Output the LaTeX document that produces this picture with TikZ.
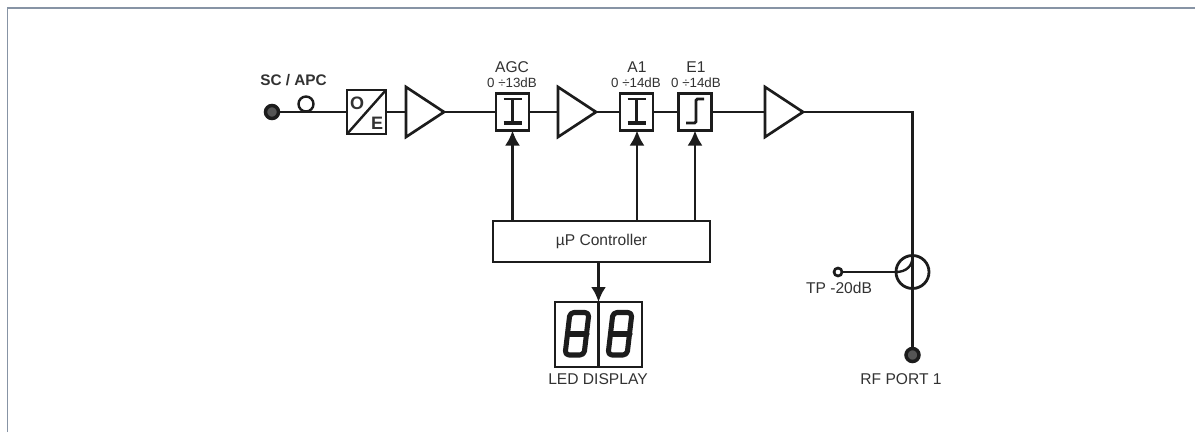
\documentclass[tikz,border=0pt]{standalone}
\usepackage{fontspec}
\setmainfont{Liberation Sans}
\usetikzlibrary{arrows.meta,shapes.geometric}
\definecolor{frameblue}{RGB}{135,148,165}
\definecolor{ink}{RGB}{28,28,28}
\definecolor{txt}{RGB}{50,50,50}
\newlength{\pxl}
\setlength{\pxl}{0.75pt}
\tikzset{x=\pxl,y=-\pxl,
 wire/.style={draw=ink,line width=2pt},
 box/.style={draw=ink,line width=2.1pt,fill=white,minimum width=33\pxl,minimum height=37\pxl,inner sep=0pt,outer sep=0pt},
 amp/.style={isosceles triangle,isosceles triangle stretches,draw=ink,line width=2pt,fill=white,minimum height=38\pxl,minimum width=50\pxl,inner sep=0pt,outer sep=0pt,anchor=lower side,miter limit=4},
 ctl/.style={wire,-{Latex[length=11.25pt,width=11.25pt]}},
 lab/.style={text=txt,inner sep=0pt,font=\fontsize{11.7pt}{13pt}\selectfont},
 tinylab/.style={text=txt,inner sep=0pt,font=\fontsize{10pt}{12pt}\selectfont},
 letter/.style={text=txt,inner sep=0pt,font=\fontsize{13.5pt}{14pt}\selectfont\bfseries},
 port/.style={circle,draw=ink,line width=2.6pt,fill=ink!75,minimum size=13\pxl,inner sep=0pt,outer sep=0pt},
 tp/.style={circle,draw=ink,line width=2pt,fill=white,minimum size=8\pxl,inner sep=0pt,outer sep=0pt},
 seg/.style={draw=ink,line width=3.8pt,line join=round,line cap=round,rounded corners=3pt}
}
\begin{document}
\begin{tikzpicture}
\useasboundingbox (0,0) rectangle (1195,432);
\fill[white] (0,0) rectangle (1195,432);
\draw[frameblue,line width=1.3pt] (7.5,432) -- (7.5,8) -- (1195,8);

% nodes
\node[port] (sc) at (272,112) {};
\node[lab,font=\fontsize{11.5pt}{13pt}\selectfont\bfseries] (sclab) at (293.5,80) {SC / APC};
\node[box,minimum width=39\pxl,minimum height=44\pxl] (oe) at (366.5,112) {};
\node[amp] (amp1) at (406,112) {};
\node[box] (agc) at (512.5,112) {};
\node[amp] (amp2) at (558,112) {};
\node[box] (a1) at (636.5,112) {};
\node[box] (e1) at (695,112) {};
\node[amp] (amp3) at (765,112) {};
\node[lab] (agclab) at (512,67) {AGC};
\node[tinylab] (agcr) at (512,83) {0 ÷13dB};
\node[lab] (a1lab) at (637,67) {A1};
\node[tinylab] (a1r) at (636,83) {0 ÷14dB};
\node[lab] (e1lab) at (696,67) {E1};
\node[tinylab] (e1r) at (696,83) {0 ÷14dB};
\node[draw=ink,line width=2.1pt,fill=white,minimum width=217\pxl,minimum height=41\pxl,inner sep=0pt,outer sep=0pt,font=\fontsize{11.7pt}{13pt}\selectfont,text=txt] (mu) at (601.5,241.5) {µP Controller};
\node[draw=ink,line width=2pt,fill=white,minimum width=87\pxl,minimum height=65\pxl,inner sep=0pt,outer sep=0pt] (led) at (598.5,334.5) {};
\node[lab] (ledlab) at (598,379) {LED DISPLAY};
\node[circle,draw=ink,line width=2.1pt,minimum size=33\pxl,inner sep=0pt,outer sep=0pt] (cpl) at (912.5,272) {};
\node[tp] (tp) at (838,272) {};
\node[lab] (tplab) at (839,288) {TP -20dB};
\node[port] (rf) at (912.5,355) {};
\node[lab] (rflab) at (901,379) {RF PORT 1};
\coordinate (corner) at (912.5,112);
\coordinate (ledtop) at (598.5,302);
\coordinate (muled) at (598.5,262);
\coordinate (agcb) at (512.5,221);
\coordinate (a1b) at (637,221);
\coordinate (e1b) at (695,221);

% connectors
\draw[wire] (sc) -- (oe);
\draw[wire] (oe) -- (amp1.lower side);
\draw[wire] (amp1.apex) -- (agc);
\draw[wire] (agc) -- (amp2.lower side);
\draw[wire] (amp2.apex) -- (a1);
\draw[wire] (a1) -- (e1);
\draw[wire] (e1) -- (amp3.lower side);
\draw[wire] (amp3.apex) -- (corner) -- (rf);
\draw[wire] (tp) -- (cpl.west);
\draw[ctl] (agcb) -- (agc.south -| agcb);
\draw[ctl] (a1b) -- (a1.south -| a1b);
\draw[ctl] (e1b) -- (e1.south -| e1b);
\draw[wire] (ledtop) -- (led.south -| ledtop);
\draw[ctl] (muled) -- (ledtop);

% symbols
\draw[ink,line width=1.8pt] (306,111.5) arc[start angle=90,end angle=450,radius=7.5];
\draw[ink,line width=1.8pt] (oe.south west) -- (oe.north east);
\node[letter] (olet) at (357,103) {O};
\node[letter] (elet) at (377,123) {E};
\foreach \n in {agc,a1}{
 \draw[ink,line width=1.9pt] ([shift={(-9,-13)}]\n.center) -- ([shift={(9,-13)}]\n.center);
 \draw[ink,line width=1.9pt] ([shift={(0,-13)}]\n.center) -- ([shift={(0,11)}]\n.center);
 \draw[ink,line width=2.4pt] ([shift={(-9,11)}]\n.center) -- ([shift={(9,11)}]\n.center);
}
\draw[ink,line width=2.1pt,rounded corners=1pt] ([shift={(-9,11)}]e1.center) -- ([shift={(1,11)}]e1.center) -- ([shift={(1,-13)}]e1.center) -- ([shift={(9,-13)}]e1.center);
\draw[ink,line width=1.8pt] (cpl.west) .. controls (906,272) and (913,266) .. (912.5,256);
% seven-segment digits
\draw[seg] (570,312.5) -- (589,312.5) -- (584,355) -- (565,355) -- cycle;
\draw[seg] (568,334) -- (587,334);
\draw[seg] (613,312.5) -- (632,312.5) -- (627,355) -- (608,355) -- cycle;
\draw[seg] (611,334) -- (630,334);
\end{tikzpicture}
\end{document}
